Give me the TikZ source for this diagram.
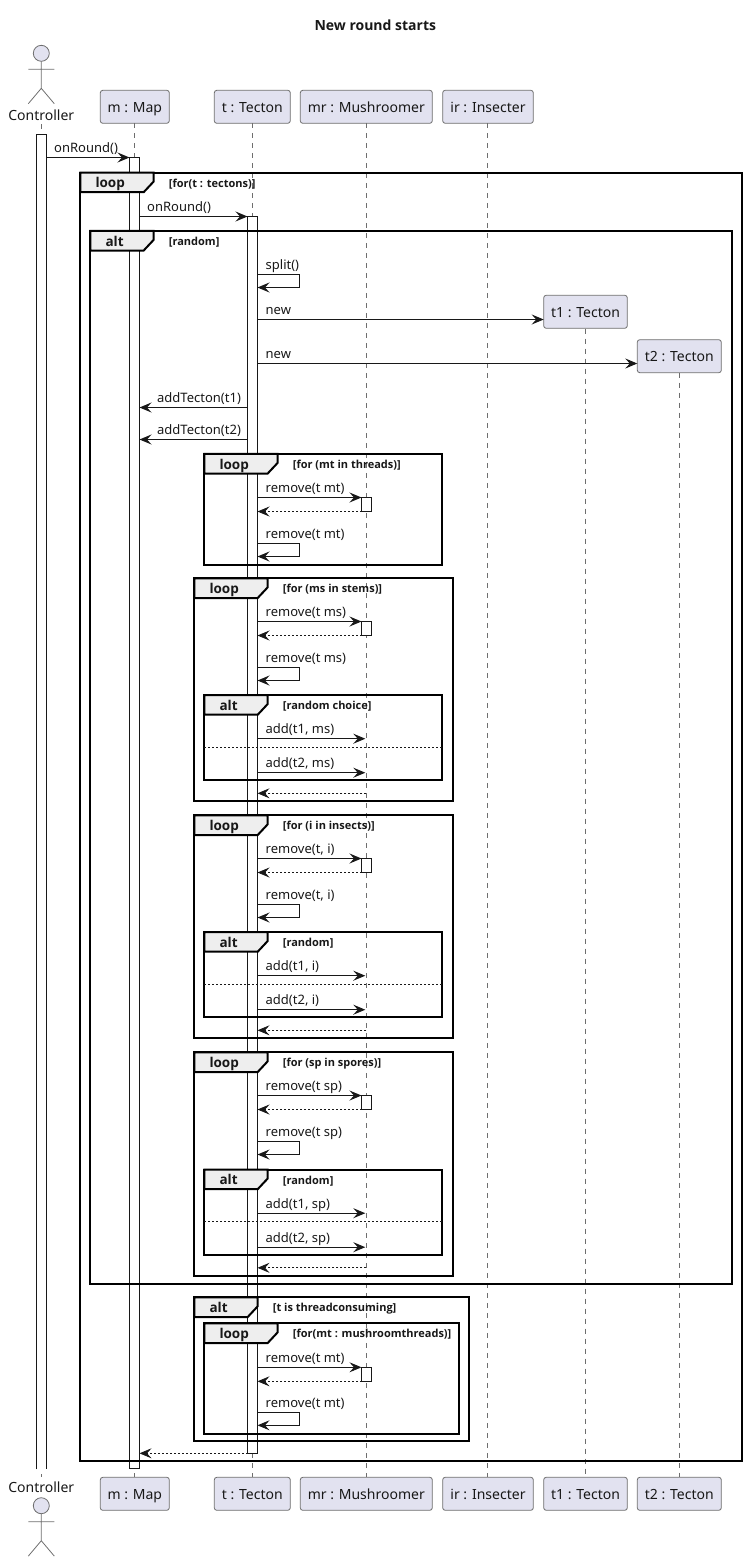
\documentclass[tikz,border=0pt]{standalone}
\usepackage{fontspec}
\setmainfont{Noto Sans}
\setsansfont{Open Sans}
\usetikzlibrary{arrows.meta}
\definecolor{ink}{HTML}{181818}
\definecolor{thin}{HTML}{6E6E6E}
\definecolor{partfill}{HTML}{E2E2F0}
\definecolor{tabfill}{HTML}{EEEEEE}
\tikzset{
  x=1pt,y=-1pt,
  head/.style={draw=thin,line width=.8pt,fill=partfill,rounded corners=2.5pt,inner sep=0pt,outer sep=0pt,minimum height=33pt,text height=13pt,text depth=2pt,font=\fontsize{14}{16}\selectfont,text=ink},
  lifeline/.style={draw=thin,line width=.7pt,dash pattern=on 5pt off 5pt},
  stick/.style={draw=thin,line width=.8pt},
  actorname/.style={anchor=base,inner sep=0pt,font=\fontsize{14}{16}\selectfont,text=ink},
  barbox/.style={draw=ink,line width=1pt,fill=white,inner sep=0pt,outer sep=0pt,minimum width=10pt},
  minibar/.style={barbox,minimum height=14pt,anchor=north},
  tipstyle/.style={-{Stealth[length=12pt,width=10pt,inset=4.5pt]}},
  msgline/.style={draw=ink,line width=1pt,tipstyle,color=ink},
  retline/.style={draw=ink,line width=.8pt,dash pattern=on 2pt off 2pt,tipstyle,color=ink},
  msglabel/.style={anchor=base west,inner sep=0pt,font=\fontsize{13}{15}\selectfont,text=ink},
  kwlabel/.style={anchor=base west,inner sep=0pt,font=\fontsize{13.5}{15}\selectfont\sffamily\bfseries,text=ink},
  condlabel/.style={anchor=base west,inner sep=0pt,font=\fontsize{11}{13}\selectfont\sffamily\bfseries,text=ink},
}
% rightward or leftward call: id, from, to, y, label x, label
\newcommand\callmsg[6]{%
  \coordinate (#1a) at (#2 |- 0,#4);
  \coordinate (#1b) at (#3 |- 0,#4);
  \draw[msgline] (#1a) -- (#1b);
  \node[msglabel] (#1t) at (#5,#4-5) {#6};
}
% call to a lifeline: tip stops 1px short
\newcommand\linemsg[6]{%
  \coordinate (#1a) at (#2 |- 0,#4);
  \coordinate (#1b) at (#3 |- 0,#4);
  \draw[msgline,shorten >=1pt] (#1a) -- (#1b);
  \node[msglabel] (#1t) at (#5,#4-5) {#6};
}
\newcommand\retmsg[4]{%
  \coordinate (#1a) at (#2 |- 0,#4);
  \coordinate (#1b) at (#3 |- 0,#4);
  \draw[retline] (#1a) -- (#1b);
}
\newcommand\selfmsg[3]{%
  \coordinate (#1a) at (barT.east |- 0,#2);
  \coordinate (#1b) at (barT.east |- 0,#2+13);
  \draw[msgline] (#1a) -- ++(42,0) -- ++(0,13) -- (#1b);
  \node[msglabel] (#1t) at (265.5,#2-5) {#3};
}
% frame: id, x0, y0, x1, y1, tab right, keyword, condition
\newcommand\sframe[8]{%
  \draw[black,line width=2pt] (#2,#3) rectangle (#4,#5);
  \draw[black,line width=2pt,fill=tabfill,line join=miter]
    (#2,#3) -- (#6,#3) -- (#6,#3+9) -- (#6-10,#3+19.7) -- (#2,#3+19.7) -- cycle;
  \node[kwlabel] (#1k) at (#2+15,#3+15.4) {#7};
  \node[condlabel] (#1c) at (#6+15,#3+14.6) {#8};
}
% actor figure with head centre at given y
\newcommand\actorfig[3]{%
  \coordinate (#1h) at (41.3,#2);
  \draw[stick,fill=partfill] (#1h) circle (8);
  \draw[stick] (41.3,#2+8) -- (41.3,#2+35) (28.3,#2+16) -- (54.3,#2+16)
     (28.3,#2+50.4) -- (41.3,#2+35) -- (54.3,#2+50.4);
}
\begin{document}
\begin{tikzpicture}
\useasboundingbox (0,0) rectangle (746,1561);
% title
\node[anchor=base,inner sep=0pt,font=\fontsize{14}{16}\selectfont\sffamily\bfseries,text=ink] (title) at (375.3,30.2) {New round starts};
% participants
\node[head,minimum width=69pt]  (hM) at (134.8,106.8) {m : Map};
\node[head,minimum width=76pt]  (hT) at (252.3,106.8) {t : Tecton};
\node[head,minimum width=132pt] (hR) at (366.3,106.8) {mr : Mushroomer};
\node[head,minimum width=90.6pt](hI) at (488,106.8) {ir : Insecter};
\node[head,minimum width=83.6pt](h1) at (585.5,311.8) {t1 : Tecton};
\node[head,minimum width=84pt]  (h2) at (679.3,356.2) {t2 : Tecton};
\node[head,minimum width=69pt]  (fM) at (134.8,1493.8) {m : Map};
\node[head,minimum width=76pt]  (fT) at (252.3,1493.8) {t : Tecton};
\node[head,minimum width=132pt] (fR) at (366.3,1493.8) {mr : Mushroomer};
\node[head,minimum width=90.6pt](fI) at (488,1493.8) {ir : Insecter};
\node[head,minimum width=83.6pt](f1) at (585.5,1493.8) {t1 : Tecton};
\node[head,minimum width=84pt]  (f2) at (679.3,1493.8) {t2 : Tecton};
% actor
\actorfig{aT}{53.3}{}
\node[actorname] (hC) at (41.3,120) {Controller};
\actorfig{aB}{1505.7}{}
\node[actorname] (fC) at (41.3,1492.7) {Controller};
\coordinate (llCa) at (41.3,124);
\coordinate (llCb) at (41.3,1477.3);
% lifelines
\draw[lifeline] (llCa) -- (llCb);
\draw[lifeline] (134.3,123.3) -- (134.3,1477.3);
\draw[lifeline] (hT.south) -- (fT.north);
\draw[lifeline] (hR.south) -- (fR.north);
\draw[lifeline] (487.3,123.3) -- (487.3,1477.3);
\draw[lifeline] (585.3,328.6) -- (585.3,1477.3);
\draw[lifeline] (h2.south) -- (f2.north);
% activation bars
\node[barbox,draw=none,anchor=north,minimum height=1334.8pt] (barC) at (41.5,134.5) {};
\draw[ink,line width=1pt] (barC.south west) -- (barC.north west) -- (barC.north east) -- (barC.south east);
\node[barbox,anchor=north,minimum height=1310.8pt] (barM) at (134.5,157.5) {};
\node[barbox,anchor=north,minimum height=1236.8pt] (barT) at (252.5,216.5) {};
\node[minibar] (s1) at (366.5,497.5) {};
\node[minibar] (s2) at (366.5,621.5) {};
\node[minibar] (s3) at (366.5,858.5) {};
\node[minibar] (s4) at (366.5,1095.5) {};
\node[minibar] (s5) at (366.5,1367.3) {};
% frames
\sframe{fa}{80.3}{172.5}{741.7}{1461}{153.7}{loop}{[for(t : tectons)]}
\sframe{fb}{90.3}{230.8}{731.7}{1283.5}{153.7}{alt}{[random]}
\sframe{fc}{204.3}{453.8}{442.3}{565}{277.7}{loop}{[for (mt in threads)]}
\sframe{fd}{194.3}{578.3}{452.5}{801.3}{267.7}{loop}{[for (ms in stems)]}
\sframe{fe}{204.3}{695}{442.3}{780}{267.7}{alt}{[random choice]}
\sframe{ff}{194.3}{815.3}{452.5}{1038.3}{267.7}{loop}{[for (i in insects)]}
\sframe{fg}{204.3}{932}{442.3}{1017}{267.7}{alt}{[random]}
\sframe{fh}{194.3}{1052.3}{452.5}{1275.8}{267.7}{loop}{[for (sp in spores)]}
\sframe{fi}{204.3}{1169.5}{442.3}{1254.5}{267.7}{alt}{[random]}
\sframe{fj}{194.3}{1297.3}{469.3}{1440.7}{257.7}{alt}{[t is threadconsuming]}
\sframe{fk}{204.3}{1323.3}{459.3}{1433.7}{277.7}{loop}{[for(mt : mushroomthreads)]}
% else separators
\draw[ink,line width=.8pt,dash pattern=on 2pt off 2pt] (204.3,747.3) -- (442.3,747.3);
\draw[ink,line width=.8pt,dash pattern=on 2pt off 2pt] (204.3,984.3) -- (442.3,984.3);
\draw[ink,line width=.8pt,dash pattern=on 2pt off 2pt] (204.3,1221.8) -- (442.3,1221.8);
% messages
\callmsg{ma}{barC.east}{barM.west}{157.5}{54}{onRound()}
\callmsg{mb}{barM.east}{barT.west}{216.5}{147}{onRound()}
\selfmsg{mc}{274.5}{split()}
\callmsg{md}{barT.east}{h1.west}{319.5}{265.5}{new}
\callmsg{me}{barT.east}{h2.west}{363.5}{265.5}{new}
\callmsg{mf}{barT.west}{barM.east}{407.5}{157}{addTecton(t1)}
\callmsg{mg}{barT.west}{barM.east}{439.5}{157}{addTecton(t2)}
% loop threads
\callmsg{n1}{barT.east}{s1.west}{497.5}{265.5}{remove(t mt)}
\retmsg{n2}{s1.west}{barT.east}{511.5}
\selfmsg{n3}{543.5}{remove(t mt)}
% loop stems
\callmsg{p1}{barT.east}{s2.west}{621.5}{265.5}{remove(t ms)}
\retmsg{p2}{s2.west}{barT.east}{635.5}
\selfmsg{p3}{667.5}{remove(t ms)}
\linemsg{p4}{barT.east}{hR.south}{738.7}{265.5}{add(t1, ms)}
\linemsg{p5}{barT.east}{hR.south}{772.7}{265.5}{add(t2, ms)}
\retmsg{p6}{hR.south}{barT.east}{793.3}
% loop insects
\callmsg{q1}{barT.east}{s3.west}{858.5}{265.5}{remove(t, i)}
\retmsg{q2}{s3.west}{barT.east}{872.5}
\selfmsg{q3}{904.5}{remove(t, i)}
\linemsg{q4}{barT.east}{hR.south}{975.7}{265.5}{add(t1, i)}
\linemsg{q5}{barT.east}{hR.south}{1009.7}{265.5}{add(t2, i)}
\retmsg{q6}{hR.south}{barT.east}{1030.3}
% loop spores
\callmsg{r1}{barT.east}{s4.west}{1095.5}{265.5}{remove(t sp)}
\retmsg{r2}{s4.west}{barT.east}{1109.5}
\selfmsg{r3}{1141.5}{remove(t sp)}
\linemsg{r4}{barT.east}{hR.south}{1213.2}{265.5}{add(t1, sp)}
\linemsg{r5}{barT.east}{hR.south}{1247.2}{265.5}{add(t2, sp)}
\retmsg{r6}{hR.south}{barT.east}{1267.8}
% thread consuming
\callmsg{u1}{barT.east}{s5.west}{1367.3}{265.5}{remove(t mt)}
\retmsg{u2}{s5.west}{barT.east}{1381.3}
\selfmsg{u3}{1412.3}{remove(t mt)}
\retmsg{u4}{barT.west}{barM.east}{1453.3}
\end{tikzpicture}
\end{document}
